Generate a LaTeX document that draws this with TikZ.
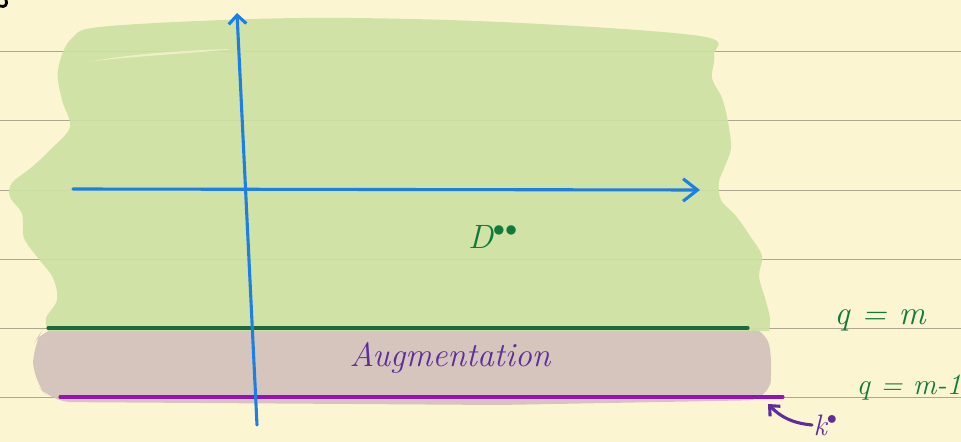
\documentclass[tikz,border=0pt]{standalone}
\usepackage{amsmath,amssymb}
\usepackage[dvipsnames]{xcolor}
\usepackage{tikz}
\usetikzlibrary{arrows.meta,positioning}
\definecolor{PaperYellow}{HTML}{FCF5D2}
\definecolor{RuleGray}{HTML}{ADA78F}
\definecolor{ScribbleGreen}{HTML}{CDE1A3}
\definecolor{BandMauve}{HTML}{D2C1BC}
\definecolor{InkBlue}{HTML}{1C7FE3}
\definecolor{InkGreen}{HTML}{0F7A3B}
\definecolor{LineGreen}{HTML}{1B6A3F}
\definecolor{InkPurple}{HTML}{5E2C9C}
\definecolor{LinePurple}{HTML}{9213B9}

\begin{document}
\begin{tikzpicture}[
x=0.25mm,y=-0.25mm,
rule/.style={RuleGray,line width=0.6pt},
ink/.style={line width=2.2pt,line cap=round,line join=round},
axis/.style={ink,InkBlue,-{Straight Barb[length=2.2mm,width=4.4mm,line width=2.2pt]}},
hand/.style={font=\itshape\fontsize{24}{26}\selectfont,inner sep=1pt}
]
\useasboundingbox (0,0) rectangle (961,442);
\fill[PaperYellow] (0,0) rectangle (961,442);
% ruled paper
\foreach \y in {51.5,120.5,190,259,328,397}
  \draw[rule] (0,\y) -- (961,\y);
% scribbled regions
\fill[BandMauve,fill opacity=0.92,rounded corners=14] (44,327) -- (766,327)
  -- (773,366) -- (768,400) -- (500,405) -- (52,402) -- (33,380) -- (33,345) -- cycle;
\fill[ScribbleGreen,fill opacity=0.92] plot[smooth,tension=0.55] coordinates {
  (48,331) (46,318) (57,300) (53,278) (38,258) (24,238) (22,214) (10,197)
  (12,183) (32,167) (50,150) (70,127) (62,100) (58,70) (72,38) (110,26)
  (300,18) (500,22) (700,36) (714,55) (712,78) (722,98) (728,122) (731,148)
  (725,166) (719,182) (721,200) (736,216) (750,236) (762,256) (759,276)
  (765,298) (770,318) (769,331)} -- cycle;
\fill[PaperYellow,opacity=0.7] (88,62) .. controls (140,52) and (200,50) .. (232,49)
  .. controls (190,54) and (130,56) .. (88,62);
% boundary lines
\coordinate (gl) at (48,328);  \coordinate (gr) at (748,328);
\coordinate (pl) at (60,397);  \coordinate (pr) at (783,397);
\draw[ink,LineGreen] (gl) -- (gr);
\draw[ink,LinePurple] (pl) -- (pr);
% axes
\coordinate (xstart) at (73,189);  \coordinate (xend) at (700,190);
\coordinate (ystart) at (257,425); \coordinate (yend) at (237,13);
\draw[axis,-{Straight Barb[length=3.6mm,width=5.6mm,line width=2.2pt]}] (xstart) -- (xend);
\draw[axis] (ystart) -- (yend);
% labels
\node[hand,text=InkGreen] (dlabel) at (493,237) {D$^{\bullet\bullet}$};
\node[hand,text=InkPurple] (augm) at (450,358) {Augmentation};
\node[hand,text=InkGreen] (qm) at (880,320) {q = m};
\node[hand,text=InkGreen,anchor=west,font=\itshape\fontsize{21}{23}\selectfont]
  (qmone) at (855,388) {q = m-1};
\node[hand,text=InkPurple,anchor=west,font=\itshape\fontsize{21}{23}\selectfont]
  (kdot) at (812,425) {k$^{\bullet}$};
\coordinate (kpoint) at (768,404);
\draw[ink,InkPurple,-{Straight Barb[length=2mm,width=3.6mm,line width=2.2pt]}]
  (kdot.west) to[bend left=20] (kpoint);
% page edge mark
\draw[ink,black,line width=2pt] (0,6) .. controls (5,8) and (8,4) .. (6,0);
\end{tikzpicture}
\end{document}
